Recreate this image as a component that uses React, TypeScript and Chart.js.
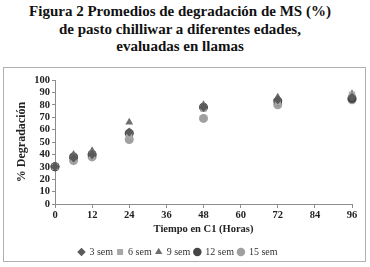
import React, { useEffect, useRef } from "react";
import { Chart, registerables } from "chart.js";
Chart.register(...registerables);

const hours = [0, 6, 12, 24, 48, 72, 96];
const sem3 = [30, 37, 40, 58, 78, 84, 86];
const sem6 = [30, 36, 39, 55, 77, 82, 88];
const sem9 = [30, 40, 43, 66, 80, 86, 89];
const sem12 = [30, 38, 40, 57, 78, 83, 85];
const sem15 = [30, 35, 38, 52, 69, 80, 84];
const seriesLabels = ["3 sem", "6 sem", "9 sem", "12 sem", "15 sem"];
const xTicks = [0, 12, 24, 36, 48, 60, 72, 84, 96];
const yTicks = [0, 10, 20, 30, 40, 50, 60, 70, 80, 90, 100];

export default function App() {
  const ref = useRef<HTMLCanvasElement>(null);
  useEffect(() => {
    document.body.style.margin = "0";
    const serif = "'Liberation Serif', 'Times New Roman', serif";
    const mk = (label: string, vals: number[], style: any, color: string, r: number) => ({
      label,
      data: vals.map((v, i) => ({ x: hours[i], y: v })),
      pointStyle: style,
      backgroundColor: color,
      borderColor: color,
      pointRadius: r,
      pointBorderWidth: 0,
      showLine: false,
      clip: false,
    });
    const chart = new Chart(ref.current!, {
      type: "scatter",
      data: {
        datasets: [
          mk(seriesLabels[0], sem3, "rectRot", "#5a5a5a", 4.5),
          mk(seriesLabels[1], sem6, "rect", "#a8a8a8", 4.5),
          mk(seriesLabels[2], sem9, "triangle", "#6e6e6e", 4.5),
          mk(seriesLabels[3], sem12, "circle", "#454545", 4.5),
          mk(seriesLabels[4], sem15, "circle", "#a0a0a0", 4.5),
        ],
      },
      options: {
        animation: false,
        responsive: false,
        layout: { padding: { left: 0, right: 13, top: 12, bottom: 0 } },
        plugins: {
          tooltip: { enabled: false },
          legend: {
            position: "bottom",
            padding: { left: 18, right: 0, top: 0, bottom: 0 },
            labels: {
              usePointStyle: true,
              boxWidth: 6,
              boxHeight: 6,
              padding: 4,
              color: "#333",
              font: { family: serif, size: 10 },
            },
          } as any,
        },
        scales: {
          x: {
            type: "linear",
            min: 0,
            max: 96,
            afterBuildTicks: (s: any) => {
              s.ticks = xTicks.map((v) => ({ value: v }));
            },
            afterFit: (s: any) => {
              s.height = 39;
            },
            grid: { drawOnChartArea: false, tickLength: 4, color: "#8c8c8c" },
            border: { color: "#8c8c8c" },
            ticks: { autoSkip: false, maxRotation: 0, color: "#222", padding: 1, font: { family: serif, size: 10.5, weight: "bold" } },
            title: {
              display: true,
              text: "Tiempo en C1 (Horas)",
              color: "#222",
              padding: { top: 0, bottom: 7 },
              font: { family: serif, size: 10.5, weight: "bold" },
            },
          },
          y: {
            min: 0,
            max: 100,
            afterBuildTicks: (s: any) => {
              s.ticks = yTicks.map((v) => ({ value: v }));
            },
            ticks: { autoSkip: false, color: "#222", padding: 2, font: { family: serif, size: 10.5, weight: "bold" } },
            afterFit: (s: any) => {
              s.width = 51;
            },
            grid: { drawOnChartArea: false, tickLength: 3, color: "#8c8c8c" },
            border: { color: "#8c8c8c" },
            title: {
              display: true,
              text: "% Degradación",
              color: "#222",
              padding: { top: 11, bottom: 0 },
              font: { family: serif, size: 12, weight: "bold" },
            },
          },
        },
      },
    });
    return () => chart.destroy();
  }, []);
  return (
    <div style={{ position: "relative", width: 370, height: 267, background: "#fff" }}>
      <div
        style={{
          position: "absolute",
          left: 0,
          top: 3,
          width: 360,
          textAlign: "center",
          fontFamily: "'Liberation Serif', 'Times New Roman', serif",
          fontWeight: "bold",
          fontSize: 15,
          lineHeight: "17.5px",
          color: "#111",
        }}
      >
        Figura 2 Promedios de degradación de MS (%)
        <br />
        de pasto chilliwar a diferentes edades,
        <br />
        evaluadas en llamas
      </div>
      <div
        style={{
          position: "absolute",
          left: 3,
          top: 67,
          width: 361,
          height: 193,
          border: "1px solid #b0b0b0",
        }}
      />
      <canvas
        ref={ref}
        width={361}
        height={199}
        style={{ display: "block", position: "absolute", left: 4, top: 68 }}
      />
    </div>
  );
}
